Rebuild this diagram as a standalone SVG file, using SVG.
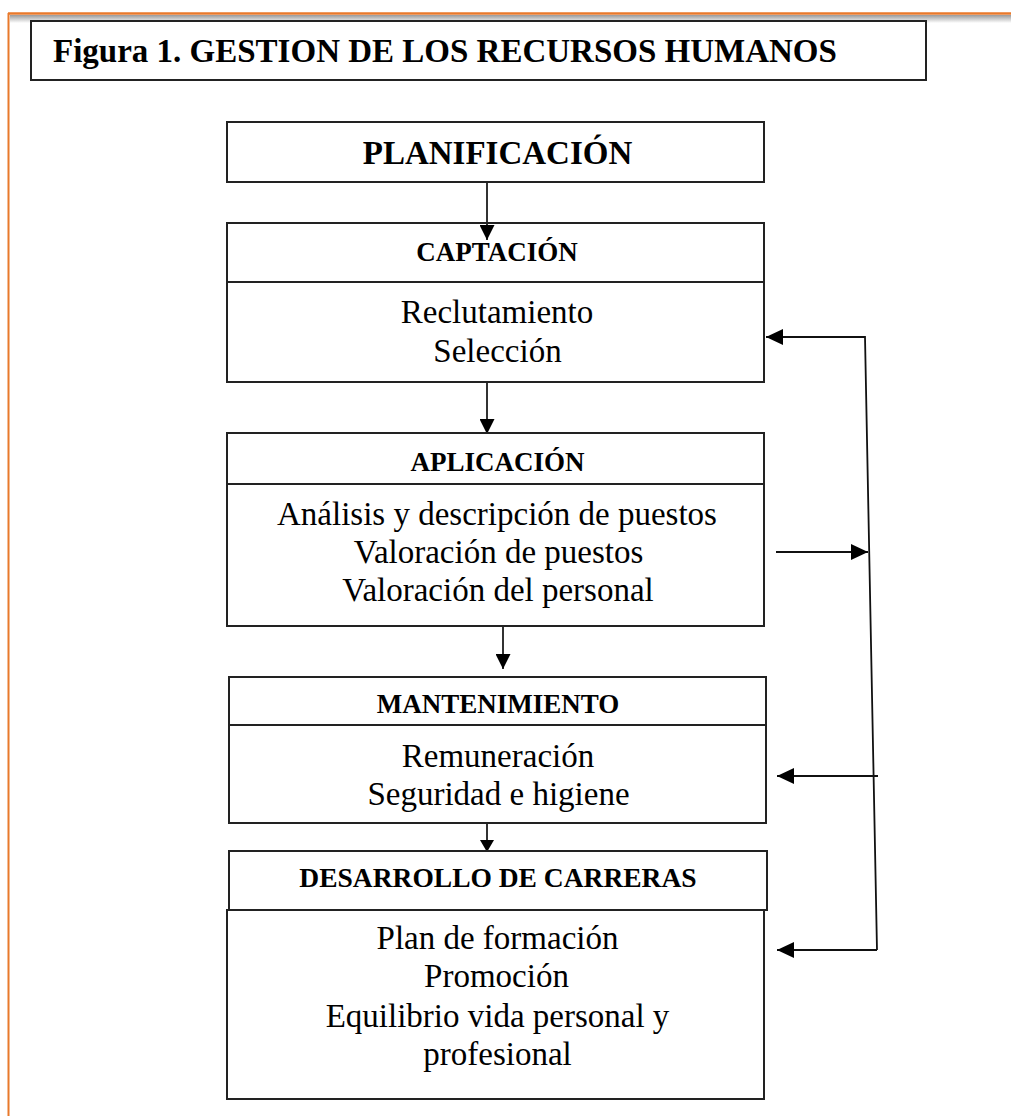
<svg xmlns="http://www.w3.org/2000/svg" width="1011" height="1116" viewBox="0 0 1011 1116">
  <defs>
    <style>
      .box { fill: #ffffff; stroke: #222222; stroke-width: 2; }
      .div { stroke: #222222; stroke-width: 2; }
      .hd { font-family: "Liberation Serif", "Times New Roman", serif; font-weight: bold; fill: #000; text-anchor: middle; }
      .tx { font-family: "Liberation Serif", "Times New Roman", serif; font-size: 33px; fill: #000; text-anchor: middle; }
      .con { fill: none; stroke: #333333; stroke-width: 2; }
      .fb { fill: none; stroke: #111111; stroke-width: 1.8; }
    </style>
    <marker id="ah" viewBox="0 0 15 15" markerWidth="15" markerHeight="15" refX="15" refY="7.5" orient="auto" markerUnits="userSpaceOnUse">
      <path d="M0,0 L15,7.5 L0,15 z" fill="#000"/>
    </marker>
    <marker id="ahs" viewBox="0 0 15 15" markerWidth="12" markerHeight="14" refX="15" refY="7.5" orient="auto" markerUnits="userSpaceOnUse" preserveAspectRatio="none">
      <path d="M0,0 L15,7.5 L0,15 z" fill="#000"/>
    </marker>
    <marker id="ahh" viewBox="0 0 17 16" markerWidth="17" markerHeight="16" refX="17" refY="8" orient="auto" markerUnits="userSpaceOnUse">
      <path d="M0,0 L17,8 L0,16 z" fill="#000"/>
    </marker>
    <linearGradient id="shadow" x1="0" y1="0" x2="0" y2="1">
      <stop offset="0" stop-color="#9a9a9a"/>
      <stop offset="1" stop-color="#ffffff"/>
    </linearGradient>
  </defs>

  <rect x="0" y="0" width="1011" height="1116" fill="#ffffff"/>

  <g id="frame">
    <rect x="10" y="15" width="1001" height="8" fill="url(#shadow)"/>
    <line x1="8" y1="13.5" x2="1011" y2="13.5" stroke="#E8792B" stroke-width="2.5"/>
    <line x1="8.5" y1="13" x2="8.5" y2="1116" stroke="#E8792B" stroke-width="2"/>
  </g>

  <g id="title">
    <rect class="box" x="31" y="21" width="895" height="59"/>
    <text x="53" y="62" font-family="'Liberation Serif', 'Times New Roman', serif" font-weight="bold" font-size="33">Figura 1. GESTION DE LOS RECURSOS HUMANOS</text>
  </g>

  <g id="connectors">
    <line class="con" x1="487" y1="182" x2="487" y2="240" marker-end="url(#ah)"/>
    <line class="con" x1="487" y1="382" x2="487" y2="434" marker-end="url(#ah)"/>
    <line class="con" x1="503" y1="626" x2="503" y2="669" marker-end="url(#ah)"/>
    <line class="con" x1="487" y1="823" x2="487" y2="852" marker-end="url(#ahs)"/>
    <polyline class="fb" points="877,950 865,337 766,337" marker-end="url(#ahh)"/>
    <line class="fb" x1="776" y1="552" x2="868" y2="552" marker-end="url(#ahh)"/>
    <line class="fb" x1="878" y1="776" x2="777" y2="776" marker-end="url(#ahh)"/>
    <line class="fb" x1="877" y1="950" x2="777" y2="950" marker-end="url(#ahh)"/>
  </g>

  <g id="planificacion">
    <rect class="box" x="227" y="122" width="537" height="60"/>
    <text class="hd" x="497.5" y="164" font-size="33">PLANIFICACIÓN</text>
  </g>

  <g id="captacion">
    <rect class="box" x="227" y="223" width="537" height="159" style="fill:none"/>
    <line class="div" x1="227" y1="282" x2="764" y2="282"/>
    <text class="hd" x="497" y="261" font-size="27">CAPTACIÓN</text>
    <text class="tx" x="497" y="323">Reclutamiento</text>
    <text class="tx" x="497.5" y="362">Selección</text>
  </g>

  <g id="aplicacion">
    <rect class="box" x="227" y="433" width="537" height="193"/>
    <line class="div" x1="227" y1="484" x2="764" y2="484"/>
    <text class="hd" x="497.5" y="471" font-size="27">APLICACIÓN</text>
    <text class="tx" x="497" y="525">Análisis y descripción de puestos</text>
    <text class="tx" x="498.5" y="563">Valoración de puestos</text>
    <text class="tx" x="498" y="601">Valoración del personal</text>
  </g>

  <g id="mantenimiento">
    <rect class="box" x="229" y="677" width="537" height="146"/>
    <line class="div" x1="229" y1="725" x2="766" y2="725"/>
    <text class="hd" x="498" y="713" font-size="27">MANTENIMIENTO</text>
    <text class="tx" x="498" y="767">Remuneración</text>
    <text class="tx" x="498.5" y="805">Seguridad e higiene</text>
  </g>

  <g id="desarrollo">
    <rect class="box" x="229" y="851" width="538" height="59" style="fill:none"/>
    <rect class="box" x="227" y="910" width="537" height="189"/>
    <text class="hd" x="498" y="887" font-size="27.5">DESARROLLO DE CARRERAS</text>
    <text class="tx" x="497.5" y="949">Plan de formación</text>
    <text class="tx" x="496.5" y="987">Promoción</text>
    <text class="tx" x="497.5" y="1027">Equilibrio vida personal y</text>
    <text class="tx" x="497.5" y="1065">profesional</text>
  </g>
</svg>
